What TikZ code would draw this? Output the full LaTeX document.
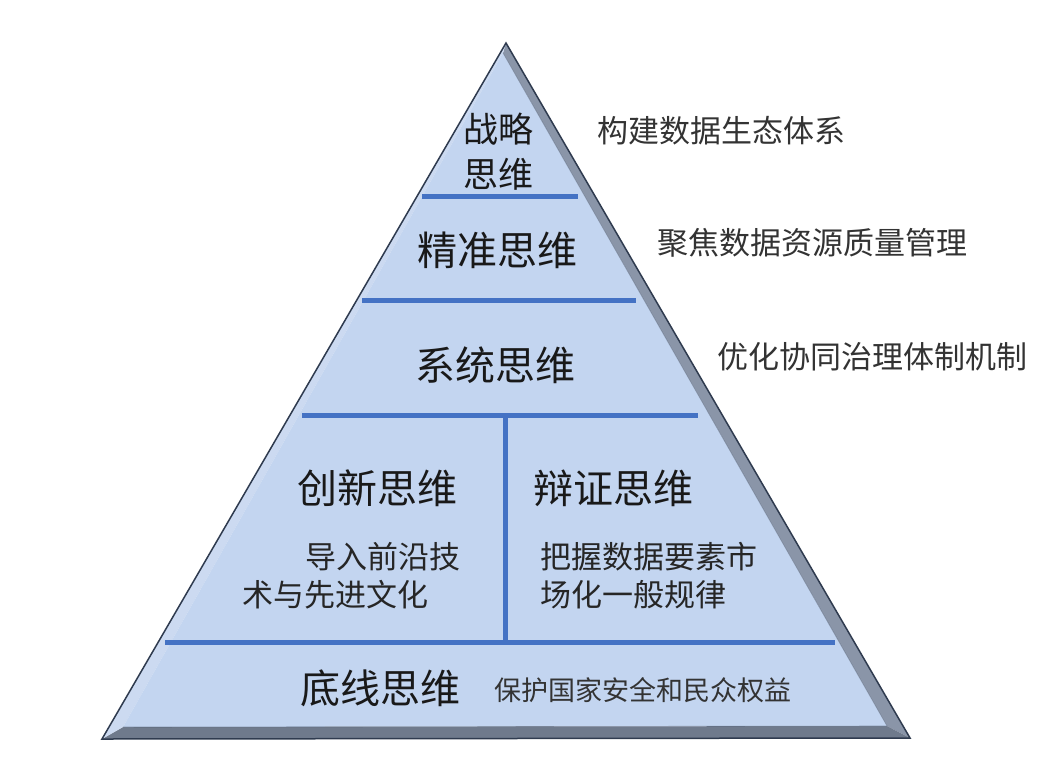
\documentclass[tikz,border=0pt]{standalone}
\usepackage{fontspec}
\newfontfamily\cjk{Noto Sans CJK SC}
\begin{document}
\begin{tikzpicture}[x=1pt,y=-1pt,
  sep/.style={line width=5pt,draw=sepblue},
  big/.style={font=\cjk\fontsize{40}{46}\selectfont,text=black!90,inner sep=0pt},
  mid/.style={font=\cjk\fontsize{31}{38}\selectfont,text=black!85,inner sep=0pt},
  side/.style={font=\cjk\fontsize{31}{38}\selectfont,text=black!80,inner sep=0pt,anchor=west},
  small/.style={font=\cjk\fontsize{27}{32}\selectfont,text=black!80,inner sep=0pt,anchor=west}]
\definecolor{face}{HTML}{C3D5F0}
\definecolor{leftbev}{HTML}{CCDAF1}
\definecolor{rightbev}{HTML}{8A95A8}
\definecolor{botbev}{HTML}{6F7A8C}
\definecolor{sepblue}{HTML}{4472C4}
\definecolor{edge}{HTML}{2F3B4F}
\useasboundingbox (0,0) rectangle (1059,782);
\fill[white] (0,0) rectangle (1059,782);
% pyramid corners
\coordinate (A) at (506,43);
\coordinate (L) at (102,739);
\coordinate (R) at (910,738);
\coordinate (a) at (503,53);
\coordinate (l) at (123,727);
\coordinate (r) at (887,726);
\fill[rightbev] (A) -- (R) -- (r) -- (a) -- cycle;
\fill[botbev] (L) -- (R) -- (r) -- (l) -- cycle;
\fill[leftbev] (A) -- (L) -- (l) -- (a) -- cycle;
\fill[face] (a) -- (l) -- (r) -- cycle;
\draw[edge,line width=0.6pt,opacity=0.4] (a) -- (r) (l) -- (r);
\draw[edge,line width=1.5pt,line join=miter] (A) -- (L) -- (R) -- cycle;
% separators
\coordinate (s1a) at (422,196); \coordinate (s1b) at (578,196);
\coordinate (s2a) at (362,300); \coordinate (s2b) at (636,300);
\coordinate (s3a) at (302,415); \coordinate (s3b) at (698,415);
\coordinate (s4a) at (165,642); \coordinate (s4b) at (835,642);
\coordinate (va) at (505,415); \coordinate (vb) at (505,642);
\draw[sep] (s1a) -- (s1b);
\draw[sep] (s2a) -- (s2b);
\draw[sep] (s3a) -- (s3b);
\draw[sep] (s4a) -- (s4b);
\draw[sep] (va) -- (vb);
% labels
\node[font=\cjk\fontsize{35}{45}\selectfont,text=black!90,inner sep=0pt,align=center] (t1) at (498,152) {战略\\思维};
\node[big] (t2) at (497,250) {精准思维};
\node[big] (t3) at (495,365) {系统思维};
\node[big] (t4) at (377,488) {创新思维};
\node[big] (t5) at (613,488) {辩证思维};
\node[mid,anchor=west] (d1) at (305,557) {导入前沿技};
\node[mid,anchor=west] (d2) at (242,595) {术与先进文化};
\node[mid,anchor=west] (d3) at (540,557) {把握数据要素市};
\node[mid,anchor=west] (d4) at (540,595) {场化一般规律};
\node[big] (t6) at (380,688) {底线思维};
\node[small] (d5) at (494,690) {保护国家安全和民众权益};
\node[side] (r1) at (597,131) {构建数据生态体系};
\node[side] (r2) at (657,243) {聚焦数据资源质量管理};
\node[side] (r3) at (717,357) {优化协同治理体制机制};
\end{tikzpicture}
\end{document}
